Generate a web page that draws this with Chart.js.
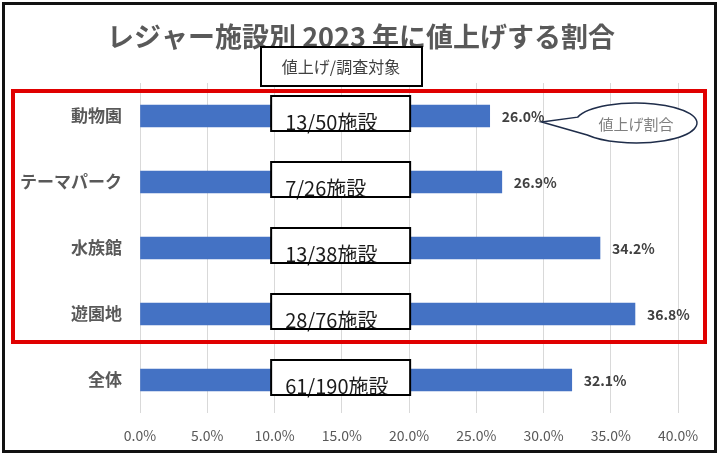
<!DOCTYPE html>
<html>
<head>
<meta charset="utf-8">
<script src="https://cdn.jsdelivr.net/npm/chart.js@4.4.0/dist/chart.umd.min.js"></script>
<style>
  html, body { margin: 0; padding: 0; background: #fff; }
  #wrap { width: 720px; height: 455px; position: relative; }
</style>
</head>
<body>
<div id="wrap"><canvas id="chart1" width="720" height="455"></canvas></div>
<script>
// data
var categories = ["動物園", "テーマパーク", "水族館", "遊園地", "全体"];
var rates = [26.0, 26.9, 34.2, 36.8, 32.1];
var surveyLabels = ["13/50施設", "7/26施設", "13/38施設", "28/76施設", "61/190施設"];
var titleText = "レジャー施設別 2023 年に値上げする割合";
var headerText = "値上げ/調査対象";
var calloutText = "値上げ割合";

var JP = "'Noto Sans CJK JP', 'Noto Sans', sans-serif";

// draws value labels, boxes, red frame, callout, title
var overlay = {
	id: "overlay",
	afterDatasetsDraw: function(chart) {
		var ctx = chart.ctx;
		var meta = chart.getDatasetMeta(0);
		var x = chart.scales.x;
		ctx.save();

		// value labels
		ctx.font = "bold 14px " + JP;
		ctx.fillStyle = "#404040";
		ctx.textAlign = "left";
		ctx.textBaseline = "middle";
		meta.data.forEach(function(bar, i) {
			ctx.fillText(rates[i].toFixed(1) + "%", bar.x + 12, bar.y + 1);
		});

		// survey count boxes
		var bx = x.getPixelForValue(9.75);
		meta.data.forEach(function(bar, i) {
			var top = bar.y - 20, h = 35, w = 139;
			ctx.fillStyle = "#fff";
			ctx.fillRect(bx, top, w, h);
			ctx.font = "20px " + JP;
			ctx.fillStyle = "#1a1a1a";
			ctx.textBaseline = "alphabetic";
			ctx.fillText(surveyLabels[i], bx + 14, top + h - 1);
			ctx.lineWidth = 2;
			ctx.strokeStyle = "#000";
			ctx.strokeRect(bx, top, w, h);
		});

		// red frame
		ctx.lineWidth = 4;
		ctx.strokeStyle = "#e00000";
		ctx.strokeRect(13, 91, 692, 251);

		// callout bubble
		var cx = 636, cy = 123, rx = 61, ry = 20;
		var tip = meta.data[0];
		ctx.beginPath();
		ctx.moveTo(tip.x + 52, tip.y + 6);
		ctx.ellipse(cx, cy, rx, ry, 0, 3.44, 8.78, false);
		ctx.closePath();
		ctx.fillStyle = "#fff";
		ctx.fill();
		ctx.lineWidth = 1.5;
		ctx.strokeStyle = "#1f2d4a";
		ctx.stroke();
		ctx.font = "15px " + JP;
		ctx.fillStyle = "#7f7f7f";
		ctx.textAlign = "center";
		ctx.textBaseline = "middle";
		ctx.fillText(calloutText, cx, cy + 1);

		// title
		ctx.font = "bold 27px " + JP;
		ctx.fillStyle = "#595959";
		ctx.fillText(titleText, 361, 37);

		// header box
		ctx.fillStyle = "#fff";
		ctx.fillRect(261, 47, 161, 39);
		ctx.lineWidth = 2;
		ctx.strokeStyle = "#000";
		ctx.strokeRect(261, 47, 161, 39);
		ctx.font = "16px " + JP;
		ctx.fillStyle = "#404040";
		ctx.fillText(headerText, 341, 67);

		// outer border
		ctx.lineWidth = 3;
		ctx.strokeStyle = "#111";
		ctx.strokeRect(3.5, 3.5, 712, 448);
		ctx.restore();
	}
};

var chart = new Chart(document.getElementById("chart1"), {
	type: "bar",
	data: {
		labels: categories,
		datasets: [{
			label: "値上げ割合",
			data: rates,
			backgroundColor: "#4472c4",
			barThickness: 22
		}]
	},
	options: {
		indexAxis: "y",
		responsive: false,
		animation: false,
		layout: {
			padding: { top: 83, left: 0, right: 42, bottom: 0 }
		},
		plugins: {
			legend: { display: false },
			tooltip: { enabled: false },
			title: { display: false }
		},
		scales: {
			x: {
				min: 0,
				max: 40,
				ticks: {
					stepSize: 5,
					padding: 14,
					color: "#595959",
					font: { family: JP, size: 14 },
					callback: function(v) { return v.toFixed(1) + "%"; }
				},
				grid: { color: "#d9d9d9", drawTicks: false },
				border: { display: false },
				afterFit: function(s) { s.height = 42; }
			},
			y: {
				ticks: {
					padding: 18,
					color: "#595959",
					font: { family: JP, size: 17, weight: "bold" }
				},
				grid: { display: false, drawTicks: false },
				border: { display: false },
				afterFit: function(s) { s.width = 140; }
			}
		}
	},
	plugins: [overlay]
});
</script>
</body>
</html>
